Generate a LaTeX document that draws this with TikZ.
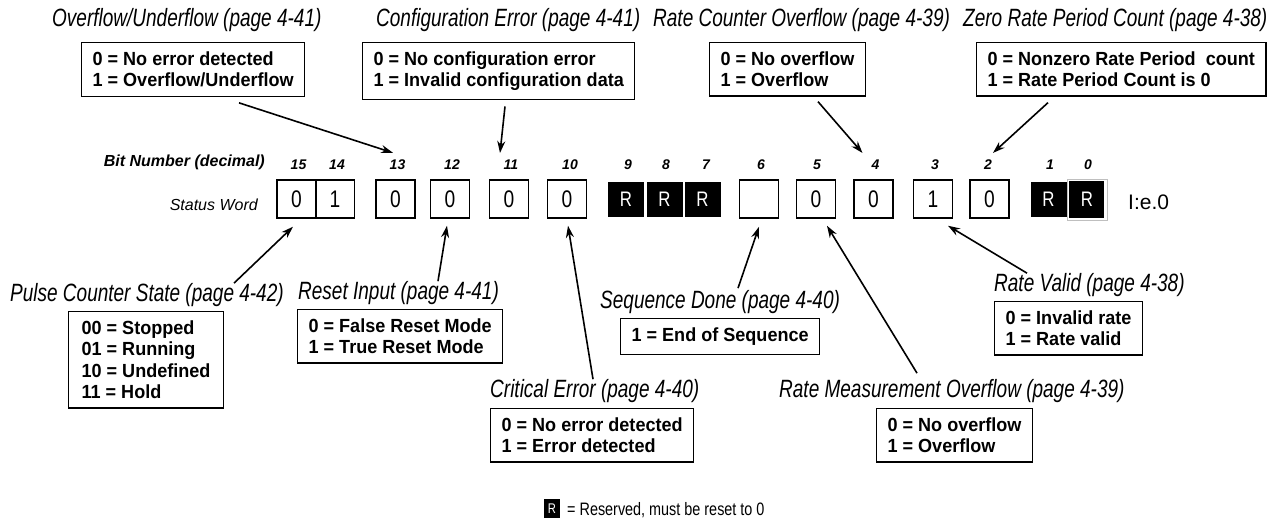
\documentclass[tikz,border=0pt]{standalone}
\usepackage{fontspec}
\setmainfont{Liberation Sans}
\newfontfamily\labfont[FakeStretch=0.76]{Liberation Sans}
\newfontfamily\boxfont[FakeStretch=0.95]{Liberation Sans}
\newfontfamily\condfont[FakeStretch=0.8]{Liberation Sans}
\usetikzlibrary{arrows.meta, backgrounds}

\begin{document}
\begin{tikzpicture}[
            x=1pt, y=-1pt,
            background rectangle/.style={fill=white},
            show background rectangle,
            inner frame sep=0pt,
            lbl/.style={inner sep=0pt, anchor=west,
                font=\labfont\itshape\fontsize{25}{28}\selectfont},
            infobox/.style={draw, line width=1.2pt, anchor=north west,
                align=left, inner xsep=11pt, inner ysep=9pt,
                font=\boxfont\bfseries\fontsize{19}{21.5}\selectfont},
            bitbox/.style={draw, line width=1.5pt, minimum width=39pt,
                minimum height=38pt, inner sep=0pt,
                font=\condfont\fontsize{24}{24}\selectfont},
            resbox/.style={fill=black, text=white, minimum width=36pt,
                minimum height=35pt, inner sep=0pt,
                font=\condfont\fontsize{21}{21}\selectfont},
            bitnum/.style={inner sep=0pt,
                font=\bfseries\itshape\fontsize{14}{14}\selectfont},
            pointer/.style={-{Stealth[length=12pt,width=8pt]}, line width=1.6pt}
        ]

        \useasboundingbox (0,0) rectangle (1282,529);

        % headings of the two rows
        \node[anchor=east, inner sep=0pt, font=\bfseries\itshape\fontsize{16}{16}\selectfont]
            (bitno) at (265,162) {Bit Number (decimal)};
        \node[anchor=east, inner sep=0pt, font=\itshape\fontsize{16}{16}\selectfont]
            (sword) at (258,205) {Status Word};
        \node[anchor=west, inner sep=0pt, font=\fontsize{21}{21}\selectfont]
            (addr) at (1128,202) {I:e.0};

        % status word
        \node[bitbox] (w15) at (296.5,199) {0};
        \node[bitbox] (w14) at (335,199) {1};
        \node[bitbox] (w13) at (395.5,199) {0};
        \node[bitbox] (w12) at (450,199) {0};
        \node[bitbox] (w11) at (509,199) {0};
        \node[bitbox] (w10) at (567,199) {0};
        \node[resbox] (w9) at (626,199.5) {R};
        \node[resbox] (w8) at (664.5,199.5) {R};
        \node[resbox] (w7) at (702.5,199.5) {R};
        \node[bitbox] (w6) at (759,199) {};
        \node[bitbox] (w5) at (816,199) {0};
        \node[bitbox] (w4) at (873.5,199) {0};
        \node[bitbox] (w3) at (933,199) {1};
        \node[bitbox] (w2) at (989.5,199) {0};
        \node[resbox] (w1) at (1048.5,199.5) {R};
        \node[resbox, draw=black!25, line width=0.6pt, fill=white,
            minimum width=40pt, minimum height=41pt,
            path picture={\fill[black]
                ([shift={(2pt,-2pt)}]path picture bounding box.north west) rectangle
                ([shift={(-3pt,2pt)}]path picture bounding box.south east);}]
            (w0) at (1087,199.5) {R};

        % bit numbers
        \node[bitnum] (b15) at (298.5,165) {15};
        \node[bitnum] (b14) at (337,165) {14};
        \node[bitnum] (b13) at (397.5,165) {13};
        \node[bitnum] (b12) at (452,165) {12};
        \node[bitnum] (b11) at (511,165) {11};
        \node[bitnum] (b10) at (570,165) {10};
        \node[bitnum] (b9) at (628,165) {9};
        \node[bitnum] (b8) at (666,165) {8};
        \node[bitnum] (b7) at (706,165) {7};
        \node[bitnum] (b6) at (761,165) {6};
        \node[bitnum] (b5) at (817,165) {5};
        \node[bitnum] (b4) at (875.5,165) {4};
        \node[bitnum] (b3) at (935,165) {3};
        \node[bitnum] (b2) at (988,165) {2};
        \node[bitnum] (b1) at (1050,165) {1};
        \node[bitnum] (b0) at (1088,165) {0};

        % upper descriptions
        \node[lbl] (ovfl) at (52,20) {Overflow/Underflow (page 4-41)};
        \node[infobox] (ovf) at (81,42) {0 = No error detected\\1 = Overflow/Underflow};
        \node[lbl] (cfgl) at (376,20) {Configuration Error (page 4-41)};
        \node[infobox] (cfg) at (362,42) {0 = No configuration error\\1 = Invalid configuration data};
        \node[lbl] (rcol) at (653,20) {Rate Counter Overflow (page 4-39)};
        \node[infobox] (rco) at (709,42) {0 = No overflow\\1 = Overflow};
        \node[lbl] (zrpl) at (963,20) {Zero Rate Period Count (page 4-38)};
        \node[infobox] (zrp) at (976,42) {0 = Nonzero Rate Period~ count\\1 = Rate Period Count is 0};

        % lower descriptions
        \node[lbl] (pcsl) at (10,295) {Pulse Counter State (page 4-42)};
        \node[infobox, inner xsep=13pt] (pcs) at (68,311) {00 = Stopped\\01 = Running\\10 = Undefined\\11 = Hold};
        \node[lbl] (rstl) at (298,293) {Reset Input (page 4-41)};
        \node[infobox] (rst) at (297,309) {0 = False Reset Mode\\1 = True Reset Mode};
        \node[lbl] (critl) at (490,391) {Critical Error (page 4-40)};
        \node[infobox] (crit) at (490,408) {0 = No error detected\\1 = Error detected};
        \node[lbl] (seql) at (600,302) {Sequence Done (page 4-40)};
        \node[infobox] (seq) at (620,318) {1 = End of Sequence};
        \node[lbl] (rmol) at (779,391) {Rate Measurement Overflow (page 4-39)};
        \node[infobox] (rmo) at (876,408) {0 = No overflow\\1 = Overflow};
        \node[lbl] (rvl) at (994,285) {Rate Valid (page 4-38)};
        \node[infobox] (rv) at (994,301) {0 = Invalid rate\\1 = Rate valid};

        % key
        \node[resbox, minimum width=16pt, minimum height=19pt,
            font=\condfont\fontsize{14}{14}\selectfont] (key) at (552,508.5) {R};
        \node[anchor=west, inner sep=0pt, font=\condfont\fontsize{18}{18}\selectfont]
            (keytext) at (567,510) {= Reserved, must be reset to 0};

        % pointers from the descriptions to the bits
        \path[pointer] ([xshift=158pt,yshift=-6pt]ovf.south west) edge ([xshift=-4.5pt,yshift=7pt]b13.north);
        \path[pointer] ([xshift=143pt,yshift=-6pt]cfg.south west) edge ([xshift=-11pt,yshift=7pt]b11.north);
        \path[pointer] ([xshift=109pt,yshift=-5pt]rco.south west) edge ([xshift=-13pt,yshift=7pt]b4.north);
        \path[pointer] ([xshift=72pt,yshift=-6pt]zrp.south west) edge ([xshift=5pt,yshift=7pt]b2.north);
        \path[pointer] ([xshift=224pt]pcsl.north west) edge ([xshift=-3.5pt,yshift=-8pt]w15.south);
        \path[pointer] ([xshift=140pt]rstl.north west) edge ([xshift=-3pt,yshift=-7pt]w12.south);
        \path[pointer] ([xshift=103pt]critl.north west) edge ([xshift=1pt,yshift=-7pt]w10.south);
        \path[pointer] ([xshift=138pt,yshift=2pt]seql.north west) edge ([yshift=-8pt]w6.south);
        \path[pointer] ([xshift=138pt,yshift=6pt]rmol.north west) edge ([xshift=11pt,yshift=-7pt]w5.south);
        \path[pointer] ([xshift=33pt]rvl.north west) edge ([xshift=15pt,yshift=-7pt]w3.south);

    \end{tikzpicture}
\end{document}
